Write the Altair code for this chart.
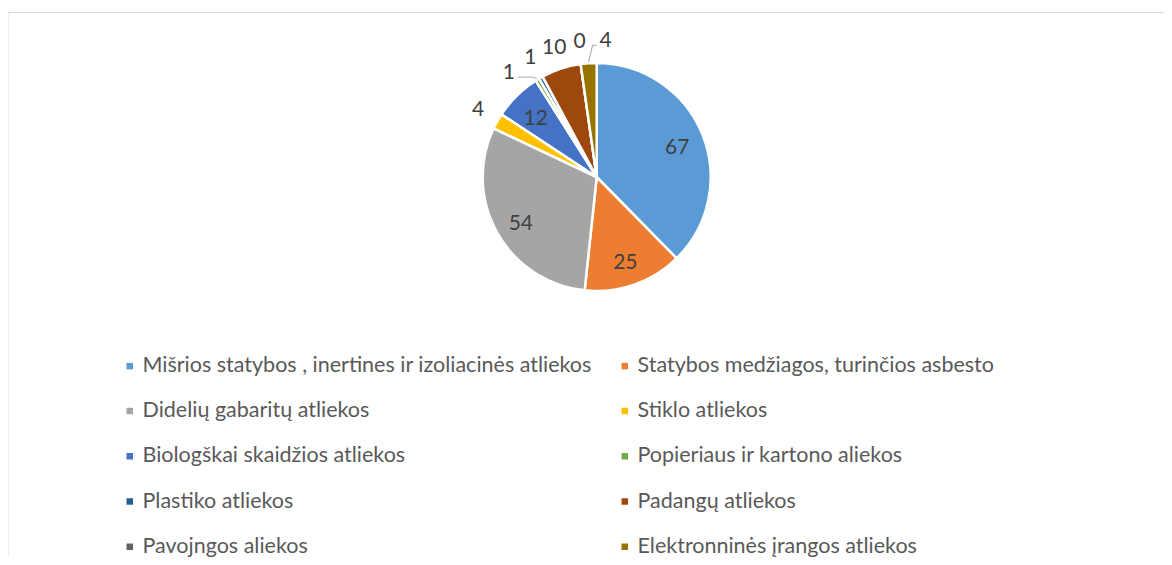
import math
import altair as alt
import pandas as pd

# ---------------- data ----------------
categories = [
    "Mišrios statybos , inertines ir izoliacinės atliekos",
    "Statybos medžiagos, turinčios asbesto",
    "Didelių gabaritų atliekos",
    "Stiklo atliekos",
    "Biologškai skaidžios atliekos",
    "Popieriaus ir kartono aliekos",
    "Plastiko atliekos",
    "Padangų atliekos",
    "Pavojngos aliekos",
    "Elektronninės įrangos atliekos",
]
values = [67, 25, 54, 4, 12, 1, 1, 10, 0, 4]
colors = ["#5B9BD5", "#ED7D31", "#A5A5A5", "#FFC000", "#4472C4",
          "#70AD47", "#255E91", "#9E480E", "#636363", "#997300"]

# ---------------- layout ----------------
W, H = 1156, 545
CX, CY = 588.7, 165.0          # pie centre inside the view
R = 114                         # pie radius
R_IN, R_OUT = 87, 136           # label radii
INSIDE_MIN = 12                 # values at least this big get inside labels
SEP = 11                        # min angular separation of outside labels (deg)
FONT = "Lato"

total = sum(values)
mids, cum = [], 0
for v in values:
    mids.append((cum + v / 2) / total * 360)
    cum += v


def spread(angles, sep):
    clusters = [[a] for a in angles]

    def pos(c):
        m = sum(c) / len(c)
        return [m + (j - (len(c) - 1) / 2) * sep for j in range(len(c))]

    merged = True
    while merged:
        merged = False
        for k in range(len(clusters) - 1):
            if pos(clusters[k])[-1] + sep > pos(clusters[k + 1])[0]:
                clusters[k] = clusters[k] + clusters[k + 1]
                del clusters[k + 1]
                merged = True
                break
    out = []
    for c in clusters:
        out += pos(c)
    return out


outer_idx = [i for i, v in enumerate(values) if v < INSIDE_MIN]
outer_ang = spread([mids[i] for i in outer_idx], SEP)
label_ang = list(mids)
for i, a in zip(outer_idx, outer_ang):
    label_ang[i] = a


def polar(r, a):
    t = math.radians(a)
    return r * math.sin(t), r * math.cos(t)


rows, label_rows, leader_rows = [], [], []
for i, (c, v) in enumerate(zip(categories, values)):
    rows.append({"category": c, "value": v, "idx": i})
    inside = v >= INSIDE_MIN
    r = R_IN if inside else R_OUT
    lx, ly = polar(r, label_ang[i])
    if inside:
        ly -= 4
    label_rows.append({"value": v, "lx": lx, "ly": ly})
    if not inside and abs(label_ang[i] - mids[i]) > 5:
        p1 = polar(R + 1, mids[i])
        sign = 1 if p1[0] > lx else -1
        p3 = (lx + sign * 9, ly - 4)
        p2 = (p1[0] - sign * 4, p3[1])
        for k, p in enumerate([p1, p2, p3]):
            leader_rows.append({"id": i, "k": k, "lx": p[0], "ly": p[1]})

df = pd.DataFrame(rows)
df_lab = pd.DataFrame(label_rows)
df_lead = pd.DataFrame(leader_rows)

xs = alt.Scale(domain=[-CX, W - CX], nice=False, zero=False)
ys = alt.Scale(domain=[CY - H, CY], nice=False, zero=False)

pie = alt.Chart(df).mark_arc(outerRadius=R, stroke="white", strokeWidth=2.5).encode(
    theta=alt.Theta("value:Q", stack=True),
    order=alt.Order("idx:Q"),
    color=alt.Color(
        "category:N",
        scale=alt.Scale(domain=categories, range=colors),
        legend=alt.Legend(
            orient="none", legendX=111, legendY=343, columns=2, direction="horizontal",
            title=None, symbolType="square", symbolSize=42, symbolStrokeWidth=0,
            labelFont=FONT, labelFontSize=21.5, labelColor="#595959",
            labelLimit=0, labelOffset=2, rowPadding=22.25, columnPadding=22,
        ),
    ),
    x=alt.value(CX),
    y=alt.value(CY),
)

labels = alt.Chart(df_lab).mark_text(
    font=FONT, fontSize=21, color="#404040", align="center", baseline="middle"
).encode(
    x=alt.X("lx:Q", scale=xs, axis=None),
    y=alt.Y("ly:Q", scale=ys, axis=None),
    text=alt.Text("value:Q"),
)

leaders = alt.Chart(df_lead).mark_line(color="#a6a6a6", strokeWidth=1).encode(
    x=alt.X("lx:Q", scale=xs, axis=None),
    y=alt.Y("ly:Q", scale=ys, axis=None),
    detail="id:N",
    order="k:Q",
)

one = pd.DataFrame({"a": [0]})
top_rule = alt.Chart(one).mark_rule(color="#d9d9d9", strokeWidth=1).encode(
    x=alt.value(0), x2=alt.value(W), y=alt.value(0.5)
)
left_rule = alt.Chart(one).mark_rule(color="#d9d9d9", strokeWidth=1).encode(
    x=alt.value(0), y=alt.value(0), y2=alt.value(H)
)

chart = alt.layer(top_rule, left_rule, pie, leaders, labels).properties(
    width=W, height=H, autosize="none",
    padding={"left": 0, "top": 4, "right": 0, "bottom": 0},
).configure_view(stroke=None)

chart.save("out.html", embed_options={"renderer": "svg", "actions": False})
